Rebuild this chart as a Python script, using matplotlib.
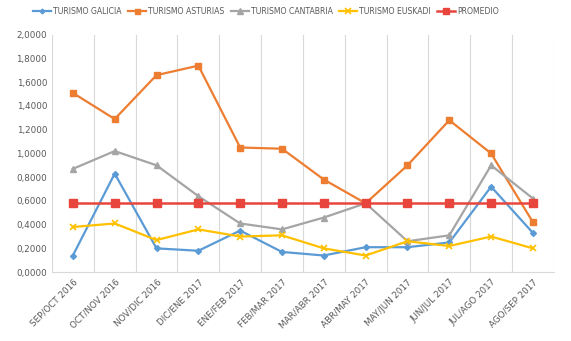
import matplotlib.pyplot as plt
import numpy as np

meses = ["SEP/OCT 2016", "OCT/NOV 2016", "NOV/DIC 2016", "DIC/ENE 2017",
         "ENE/FEB 2017", "FEB/MAR 2017", "MAR/ABR 2017", "ABR/MAY 2017",
         "MAY/JUN 2017", "JUN/JUL 2017", "JUL/AGO 2017", "AGO/SEP 2017"]
galicia = [0.14, 0.83, 0.20, 0.18, 0.35, 0.17, 0.14, 0.21, 0.21, 0.25, 0.72, 0.33]
asturias = [1.51, 1.29, 1.66, 1.74, 1.05, 1.04, 0.78, 0.58, 0.90, 1.28, 1.00, 0.42]
cantabria = [0.87, 1.02, 0.90, 0.64, 0.41, 0.36, 0.46, 0.58, 0.26, 0.31, 0.90, 0.62]
euskadi = [0.38, 0.41, 0.27, 0.36, 0.30, 0.31, 0.20, 0.14, 0.26, 0.22, 0.30, 0.20]
promedio = [0.58] * 12

txt = "#595959"
fig = plt.figure(figsize=(5.71, 3.41), dpi=100)
ax = fig.add_axes([0.091, 0.202, 0.879, 0.696])
x = np.arange(len(meses))

ax.plot(x, galicia, color="#5B9BD5", lw=1.6, marker="D", ms=3, label="TURISMO GALICIA")
ax.plot(x, asturias, color="#ED7D31", lw=1.6, marker="s", ms=4.5, label="TURISMO ASTURIAS")
ax.plot(x, cantabria, color="#A5A5A5", lw=1.6, marker="^", ms=5, label="TURISMO CANTABRIA")
ax.plot(x, euskadi, color="#FFC000", lw=1.6, marker="x", ms=5, mew=1.2, label="TURISMO EUSKADI")
ax.plot(x, promedio, color="#E8453C", lw=1.8, marker="s", ms=5.5, label="PROMEDIO")

ax.set_xlim(-0.5, len(meses) - 0.5)
ax.set_ylim(0, 2.0)
ax.set_yticks(np.arange(0, 2.01, 0.2))
ax.set_yticklabels([f"{v:.4f}".replace(".", ",") for v in np.arange(0, 2.01, 0.2)])
ax.set_xticks(x)
ax.set_xticklabels(meses, rotation=45, ha="right", rotation_mode="anchor")
ax.set_xticks(np.arange(-0.5, len(meses)), minor=True)
ax.grid(True, axis="x", which="minor", color="#D9D9D9", lw=0.8)
ax.tick_params(axis="both", which="both", length=0, labelsize=6.3, colors=txt)
ax.tick_params(axis="x", pad=4)
for s in ["top", "right", "left"]:
    ax.spines[s].set_visible(False)
ax.spines["bottom"].set_color("#D9D9D9")

fig.legend(loc="upper center", bbox_to_anchor=(0.466, 1.0), ncol=5, frameon=False,
           fontsize=5.6, labelcolor=txt, handlelength=2.3, columnspacing=0.8,
           handletextpad=0.3, markerscale=0.8)

fig.savefig("out.png", dpi=100)
